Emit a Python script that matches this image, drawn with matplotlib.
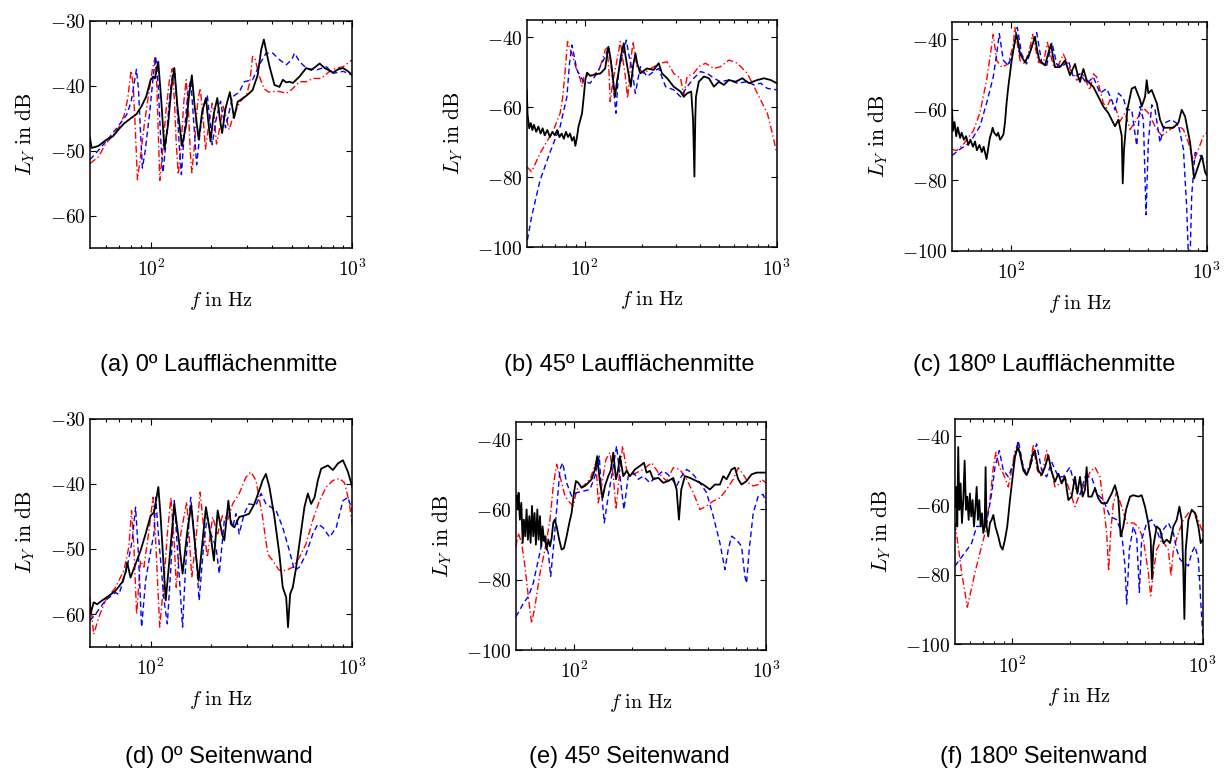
import matplotlib
matplotlib.use("Agg")
import matplotlib.pyplot as plt
from matplotlib.ticker import FixedLocator, NullFormatter

plt.rcParams['mathtext.fontset'] = 'cm'

# (a) 0º Laufflächenmitte
fa_black = [50, 51, 55, 60, 65, 70, 74, 80, 85, 90, 95, 100, 103, 105, 109, 113, 117, 122, 127, 131,
            136, 143, 150, 155, 160, 165, 173, 180, 188, 193, 198, 205, 214, 220, 226, 235, 247, 253, 259, 270,
            285, 300, 320, 339, 353, 364, 373, 388, 411, 435, 452, 470, 488, 507, 547, 590, 625, 650, 688, 729,
            802, 849, 899, 952, 1000]
La_black = [-48.0, -49.6, -49.3, -48.4, -47.8, -46.6, -45.8, -45.0, -44.4, -43.2, -41.7, -39.1, -38.6, -38.9, -36.3, -42.5, -49.8, -46.0, -40.0, -37.3,
            -43.5, -49.3, -46.0, -41.5, -38.4, -43.0, -48.3, -44.0, -41.9, -45.5, -48.6, -44.5, -41.9, -45.0, -47.3, -43.5, -41.0, -43.0, -45.0, -42.5,
            -42.0, -41.5, -40.7, -38.4, -34.5, -32.9, -34.5, -37.0, -39.9, -40.2, -39.1, -39.5, -39.4, -39.6, -38.6, -37.3, -37.6, -37.2, -36.6, -37.3,
            -38.0, -37.5, -37.3, -37.8, -38.4]
fa_red = [50, 55, 60, 65, 70, 74, 77, 79, 80, 82, 84, 86, 89, 93, 98, 102, 105, 107, 109, 111,
          114, 119, 124, 128, 131, 134, 137, 141, 146, 150, 154, 157, 160, 165, 171, 176, 181, 187, 194, 202,
          207, 212, 220, 229, 237, 245, 255, 275, 300, 310, 320, 330, 345, 365, 385, 403, 435, 470, 500, 547,
          590, 637, 700, 772, 833, 899, 1000]
La_red = [-52.0, -51.0, -48.9, -47.7, -46.3, -44.5, -42.0, -39.0, -37.7, -40.0, -47.0, -54.5, -51.0, -46.0, -41.0, -37.5, -35.7, -39.0, -47.0, -54.6,
          -51.0, -44.0, -39.0, -37.4, -42.0, -49.0, -53.7, -50.0, -42.5, -39.1, -44.0, -50.0, -53.4, -49.0, -42.5, -40.4, -44.0, -49.8, -46.0, -42.7,
          -45.0, -49.0, -46.5, -43.2, -45.0, -46.8, -45.0, -42.7, -41.2, -39.5, -35.5, -36.0, -38.5, -40.5, -41.0, -40.9, -40.9, -41.2, -40.6, -39.4,
          -39.4, -38.9, -38.9, -37.8, -37.3, -37.1, -36.0]
fa_blue = [50, 55, 60, 65, 70, 76, 80, 83, 85, 87, 89, 91, 94, 99, 103, 106, 109, 112, 115, 119,
           124, 128, 131, 135, 139, 142, 147, 153, 158, 163, 169, 176, 183, 191, 197, 202, 210, 222, 228, 235,
           245, 255, 275, 291, 320, 346, 373, 403, 435, 470, 500, 517, 547, 590, 662, 743, 802, 899, 1000]
La_blue = [-51.4, -50.0, -48.6, -47.3, -46.0, -44.5, -42.5, -39.5, -37.5, -40.5, -47.0, -52.7, -50.0, -44.0, -38.5, -35.6, -40.0, -48.0, -53.4, -49.0,
           -42.0, -38.5, -37.3, -43.0, -50.0, -53.7, -47.0, -41.0, -39.1, -45.0, -52.2, -47.0, -43.0, -41.6, -45.5, -49.1, -45.5, -42.4, -44.5, -46.5,
           -44.0, -41.7, -41.0, -39.4, -39.1, -36.8, -35.0, -35.0, -36.0, -36.8, -36.0, -35.0, -36.3, -37.3, -37.6, -37.1, -38.1, -37.8, -38.4]

# (b) 45º Laufflächenmitte
fb_black = [50, 50.5, 51.5, 52.5, 53.5, 54.5, 56, 57.5, 59, 60.5, 62, 64, 66, 68, 70, 72, 74, 76, 78, 80,
            82, 84, 86, 88, 89.5, 91, 93, 95, 97, 99, 101, 103, 107, 111, 116, 121, 125, 128, 131, 133,
            136, 139, 144, 148, 150, 155, 160, 163, 168, 174, 179, 184, 188, 195, 211, 229, 243, 253, 269, 291,
            316, 328, 342, 359, 367, 373, 377, 380, 393, 418, 444, 471, 500, 531, 564, 611, 662, 717, 793, 859,
            930, 1000]
Lb_black = [-55.0, -62.0, -66.0, -64.5, -66.5, -65.0, -67.0, -65.5, -67.5, -66.0, -68.0, -66.5, -68.5, -67.0, -68.0, -66.5, -68.5, -67.5, -69.0, -67.0,
            -68.5, -67.5, -69.5, -68.5, -71.0, -69.0, -65.5, -63.6, -61.7, -57.0, -52.0, -50.1, -51.0, -50.8, -50.5, -50.3, -49.5, -48.9, -45.0, -42.7,
            -45.5, -49.3, -57.0, -52.0, -50.3, -45.0, -41.7, -45.0, -49.3, -54.1, -48.0, -44.6, -47.5, -50.3, -48.9, -49.3, -47.4, -50.3, -51.7, -54.1,
            -55.5, -57.0, -56.0, -55.5, -63.6, -79.8, -63.0, -57.0, -52.7, -51.2, -51.7, -54.1, -52.7, -53.6, -52.2, -52.7, -51.7, -53.1, -52.2, -51.7,
            -52.2, -53.1]
fb_red = [50, 53, 58.7, 68.9, 74.6, 77, 79.3, 81.5, 83.5, 85.9, 90, 95, 97, 99, 103, 111, 118, 123, 128, 131,
          134, 136, 140, 147.5, 153.5, 157, 163, 167.6, 173, 178.7, 184, 187.5, 203, 229, 248, 269, 291, 316, 328, 342,
          370, 393, 426, 471, 510, 564, 624, 703, 762, 825, 894, 949, 1000]
Lb_red = [-77.0, -78.4, -73.1, -66.5, -61.7, -57.0, -49.3, -41.2, -43.0, -44.6, -48.5, -52.0, -54.1, -51.5, -51.0, -50.8, -49.5, -47.0, -43.6, -43.0,
          -50.0, -58.4, -53.0, -46.5, -41.2, -45.0, -51.2, -57.4, -48.0, -41.2, -46.0, -48.4, -50.3, -48.4, -47.4, -47.0, -50.3, -51.7, -56.5, -51.2,
          -50.3, -48.4, -47.4, -48.9, -48.4, -46.5, -47.4, -50.3, -54.1, -57.9, -61.7, -67.4, -73.1]
fb_blue = [50.4, 53, 58.7, 66.2, 74.6, 80.9, 83.5, 85.9, 88, 91.2, 98.8, 107, 116, 128, 133.4, 136, 138.9, 145.7, 150.5, 160,
           164.9, 170, 176.6, 183.8, 195, 211.5, 229, 243, 264, 291, 316, 342, 370, 401, 435, 471, 510, 564, 624, 703,
           762, 825, 894, 1000]
Lb_blue = [-97.9, -91.2, -80.8, -72.7, -65.5, -57.0, -47.4, -42.2, -45.0, -49.3, -52.7, -53.1, -50.3, -45.5, -42.7, -46.0, -50.3, -61.7, -49.3, -44.0,
           -40.8, -45.0, -49.3, -56.0, -48.4, -51.2, -49.8, -48.9, -54.1, -55.0, -57.0, -54.1, -51.7, -49.8, -50.3, -51.7, -52.7, -52.2, -53.1, -52.7,
           -53.6, -53.1, -54.6, -55.0]

# (c) 180º Laufflächenmitte
fc_black = [50, 50.5, 51.5, 52.5, 53.5, 55, 56, 57.5, 59, 60.5, 62, 64, 65.5, 67, 69, 71, 72.5, 74, 75, 76.5,
            78, 79.5, 80.6, 82, 84.5, 86, 88, 89.6, 91.5, 93.2, 95, 96.9, 100.8, 104.8, 106.9, 109, 111.2, 117.9, 125.1, 132.6,
            136, 139.6, 149.2, 156, 160.1, 164, 167.9, 178, 188.8, 200.3, 212.4, 220, 225.3, 234.3, 243.6, 263.5, 279.5, 296.4, 314, 340,
            353.7, 367.9, 372.2, 378, 393, 413.7, 430.2, 456.3, 465.3, 484, 493.6, 503, 523.5, 555.3, 577.4, 600.5, 675.6, 716.5, 745, 775,
            822, 861.6, 907, 943, 981, 1000]
Lc_black = [-60.0, -66.0, -63.5, -67.5, -65.0, -68.0, -66.5, -68.5, -67.5, -70.0, -68.5, -70.5, -69.0, -71.5, -70.0, -72.0, -70.5, -72.5, -74.0, -71.0,
            -68.0, -66.5, -65.1, -66.5, -67.4, -66.5, -68.5, -67.9, -67.0, -63.7, -58.0, -53.5, -46.0, -40.5, -38.8, -41.0, -44.2, -46.5, -43.7, -39.3,
            -43.0, -46.0, -47.4, -43.5, -41.4, -45.0, -47.9, -47.9, -46.0, -50.2, -47.0, -50.5, -52.1, -48.4, -51.6, -53.5, -56.3, -59.1, -60.9, -64.7,
            -62.8, -67.4, -80.9, -71.2, -60.0, -54.0, -53.5, -57.2, -59.1, -56.3, -51.6, -55.3, -54.4, -58.1, -62.8, -65.1, -65.1, -63.7, -60.0, -61.9,
            -69.3, -79.5, -75.8, -73.0, -77.7, -78.6]
fc_red = [50, 52.7, 57.1, 64.2, 69.4, 75.1, 78.1, 81.2, 84.5, 89.6, 96.9, 102.8, 104.8, 111.2, 117.9, 125.1, 129, 138, 146.3, 153.4,
          164.6, 174.6, 185.1, 200.3, 216.6, 234.3, 253.3, 263.5, 274, 296.4, 308, 320.6, 340, 360.7, 382.5, 405.7, 438.7, 474.6, 503, 544.5,
          588.8, 650, 702.6, 760, 806, 855, 907, 962, 1000]
Lc_red = [-71.2, -71.6, -69.8, -66.0, -60.9, -51.6, -45.1, -38.6, -46.0, -47.9, -47.0, -41.4, -36.7, -46.0, -47.0, -42.3, -38.6, -46.5, -47.0, -40.9,
          -47.4, -47.4, -44.2, -48.4, -51.6, -50.2, -54.4, -49.8, -50.7, -58.1, -59.5, -57.2, -59.1, -63.3, -60.9, -65.6, -62.8, -59.5, -60.9, -64.7,
          -67.4, -65.6, -64.2, -65.6, -69.3, -74.9, -71.2, -67.4, -66.5]
fc_blue = [50, 54.9, 61.7, 69.4, 75.1, 81.2, 84.5, 87.2, 91.4, 96.9, 102.8, 107.7, 113.4, 120.2, 128, 135.3, 143.4, 152.2, 162, 171.2,
           181.5, 196.3, 208.3, 225.3, 243.6, 263.5, 285, 308, 327, 340, 353.7, 375, 390, 413.7, 438.7, 456.3, 474.6, 489.7, 503, 523.5,
           544.5, 577.4, 612, 662.5, 716.5, 760, 790, 806, 822, 838, 872, 925, 1000]
Lc_blue = [-73.0, -71.2, -69.3, -64.7, -58.1, -50.7, -44.2, -38.4, -46.0, -47.4, -43.3, -36.6, -44.2, -47.0, -42.0, -38.1, -46.5, -47.4, -40.9, -47.0,
           -47.9, -46.0, -50.7, -49.8, -52.6, -50.7, -55.3, -54.0, -57.2, -60.0, -55.3, -56.7, -60.0, -60.0, -70.2, -59.1, -62.8, -89.8, -69.3, -58.6,
           -60.0, -69.3, -63.7, -62.8, -64.2, -71.2, -87.9, -102.0, -102.0, -84.2, -72.1, -73.0, -74.9]

# (d) 0º Seitenwand
fd_black = [50, 50.3, 52.2, 54.3, 57.5, 62.1, 67, 72.3, 75.1, 76.5, 79.5, 84.2, 89.1, 94.4, 100, 103.9, 109.2, 112.1, 118.8, 123,
            131, 138, 144, 152, 159, 167, 173, 181, 188, 200, 206, 215, 226, 232, 243, 250, 260, 275, 291, 308,
            327, 346, 359, 373, 388, 411, 435, 452, 470, 480, 492, 507, 527, 558, 579, 602, 625, 650, 675, 701,
            757, 802, 849, 899, 952, 1000]
Ld_black = [-58.5, -60.0, -58.2, -58.5, -57.9, -57.2, -56.4, -55.1, -53.6, -52.1, -54.4, -52.3, -50.3, -47.7, -44.9, -44.4, -40.5, -45.1, -57.9, -52.8,
            -43.1, -48.7, -53.8, -47.3, -43.3, -50.3, -54.9, -48.7, -43.6, -48.7, -51.8, -44.1, -47.7, -48.7, -42.6, -46.2, -46.7, -45.1, -44.9, -44.6,
            -43.1, -41.0, -39.5, -38.5, -40.5, -45.1, -50.8, -55.9, -57.4, -62.0, -56.9, -55.9, -52.8, -47.2, -43.6, -41.5, -43.1, -42.1, -39.5, -37.7,
            -37.2, -37.9, -36.9, -36.4, -38.2, -40.5]
fd_red = [50, 52.2, 55.3, 59.7, 67, 73.7, 78, 80.4, 82.6, 85.2, 89.1, 92.6, 98.1, 102.7, 105.9, 110.9, 116.5, 121, 126, 131,
          134, 141, 151, 155, 160, 167.5, 176, 184, 191, 203, 215, 227, 241, 255, 275, 297, 314, 333, 359, 381,
          403, 435, 470, 507, 547, 590, 637, 688, 743, 802, 865, 916, 962, 1000]
Ld_red = [-57.4, -63.1, -60.5, -57.9, -55.9, -53.3, -49.7, -44.1, -49.7, -60.0, -51.8, -52.8, -47.2, -42.1, -48.7, -62.0, -54.9, -47.7, -42.1, -49.2,
          -55.9, -47.7, -42.8, -47.7, -54.4, -48.7, -41.3, -47.2, -51.3, -45.1, -47.7, -44.9, -45.6, -43.1, -41.5, -39.0, -38.2, -39.5, -45.1, -50.8,
          -51.8, -53.3, -53.3, -52.8, -51.3, -49.2, -45.6, -42.6, -40.5, -39.5, -39.2, -39.9, -42.6, -46.2]
fd_blue = [50, 53.3, 59.7, 67, 69.6, 72.3, 76.5, 81, 84.2, 86.8, 90.2, 94.4, 100, 103.9, 105.9, 109.2, 116.5, 121, 126, 131,
           136, 144, 149, 158, 167.5, 174, 184, 191, 199, 211, 219, 232, 245, 255, 265, 275, 291, 308, 333, 353,
           373, 419, 452, 488, 517, 547, 590, 637, 675, 715, 772, 833, 899, 952, 1000]
Ld_blue = [-61.0, -60.0, -57.9, -56.7, -57.0, -55.4, -52.8, -48.7, -43.6, -50.3, -62.0, -54.9, -50.3, -47.7, -42.1, -47.7, -57.9, -61.5, -52.8, -42.6,
           -50.3, -62.0, -52.8, -42.1, -50.3, -57.9, -48.7, -45.1, -47.7, -49.7, -53.8, -45.6, -44.1, -46.7, -44.6, -47.7, -44.6, -43.1, -43.3, -41.5,
           -43.1, -44.1, -46.7, -50.3, -53.3, -52.8, -50.8, -47.7, -46.2, -46.7, -48.2, -46.7, -42.6, -42.1, -44.1]

# (e) 45º Seitenwand
fe_black = [50.4, 51, 51.6, 52.4, 53.3, 54.2, 55, 55.9, 56.8, 57.7, 58.7, 59.6, 60.6, 61.5, 62.5, 63.5, 64.6, 65.6, 66.7, 67.7,
            68.8, 70, 71.1, 72.2, 73.7, 75.2, 76.7, 78.2, 79.5, 81.4, 84, 86.4, 88.9, 91.8, 94.8, 97.4, 100.2, 102.6, 105.5, 109.8,
            114.3, 119, 123.8, 128.9, 132.5, 136.8, 141.3, 145.3, 151.2, 155.5, 160.6, 165.8, 169.1, 173.9, 181, 188.3, 196, 208.1, 221, 231.8,
            239.3, 249.1, 259.3, 275.3, 292.2, 310.3, 329.5, 342.9, 352.6, 362.6, 378.9, 402.3, 435.7, 472, 511, 542.7, 576.2, 599.8, 624.2, 662.7,
            689.7, 717.8, 747, 793, 842, 894, 949, 1000]
Le_black = [-56.2, -60.0, -55.2, -62.9, -58.1, -69.5, -62.9, -67.6, -60.0, -68.6, -61.9, -69.5, -59.0, -67.6, -61.0, -70.0, -60.0, -68.6, -61.9, -70.5,
            -64.8, -69.0, -67.6, -71.4, -68.6, -70.5, -68.1, -63.8, -62.9, -64.8, -68.6, -71.4, -71.0, -67.6, -63.8, -61.0, -55.2, -51.9, -52.4, -53.8,
            -53.3, -52.4, -51.4, -48.6, -44.8, -52.4, -56.7, -53.3, -50.5, -49.0, -43.8, -51.4, -49.5, -44.8, -50.5, -49.0, -50.5, -48.6, -47.6, -46.7,
            -49.5, -49.0, -51.4, -51.0, -52.4, -51.9, -51.0, -54.3, -62.9, -54.3, -50.5, -51.0, -51.9, -52.9, -54.3, -52.9, -52.9, -50.5, -51.4, -48.6,
            -48.1, -51.4, -52.9, -51.9, -50.0, -49.5, -49.5, -49.5]
fe_red = [50, 51.4, 53.5, 55.7, 58, 60.3, 62.8, 66.7, 70.8, 75.2, 78.2, 81.4, 84.7, 90, 95.5, 99.4, 103.5, 112.1, 121.4, 130.4,
          134.1, 139.6, 147, 154.2, 160.6, 165.8, 172.5, 179.5, 188.3, 196, 212.3, 230, 254.1, 275.3, 304.1, 329.5, 356.8, 386.6, 418.7, 453.5,
          491.2, 532, 576.2, 624.2, 676, 717.8, 762, 809, 859, 912, 949, 1000]
Le_red = [-70.5, -66.7, -69.5, -76.2, -84.8, -92.4, -87.6, -78.1, -71.4, -62.9, -53.3, -47.1, -50.5, -56.2, -58.1, -59.0, -54.3, -53.3, -51.4, -46.7,
          -58.1, -53.3, -45.7, -43.8, -50.5, -60.0, -50.5, -41.9, -48.6, -50.5, -49.5, -48.6, -46.7, -49.5, -51.9, -48.1, -48.6, -51.4, -55.2, -60.0,
          -59.0, -57.6, -56.7, -54.3, -51.4, -48.1, -50.0, -52.4, -53.3, -52.9, -51.4, -52.4]
fe_blue = [50, 52.4, 54.6, 58, 61.5, 65.4, 69.4, 73.7, 75.8, 78.2, 81.4, 84.7, 87.5, 91.8, 97.4, 103.5, 112.1, 121.4, 128.9, 135.7,
           139.6, 144.1, 151.2, 160.6, 167.1, 173.9, 182.4, 192.1, 204, 216.7, 230, 249.1, 269.8, 292.2, 316.5, 342.9, 364, 386.6, 410.4, 453.5,
           491.2, 532, 576.2, 611.8, 636.8, 662.7, 703.6, 747, 777.5, 793, 819, 859, 912, 968.5, 1000]
Le_blue = [-90.5, -88.6, -86.7, -84.8, -81.0, -74.3, -67.6, -72.4, -79.0, -71.4, -60.0, -48.6, -46.7, -52.4, -56.2, -55.2, -54.8, -54.3, -50.5, -44.8,
           -55.2, -63.8, -56.2, -47.6, -41.9, -50.5, -60.0, -50.5, -49.5, -51.4, -50.5, -52.4, -50.5, -49.0, -50.5, -53.3, -50.5, -48.6, -49.5, -52.4,
           -55.2, -61.9, -69.5, -77.1, -71.4, -67.6, -68.6, -70.5, -79.0, -81.0, -71.4, -61.0, -56.2, -55.7, -58.1]

# (f) 180º Seitenwand
ff_black = [50.2, 50.8, 51.4, 52, 52.7, 53.5, 54.4, 55.3, 56.2, 57.1, 58, 59, 59.9, 60.9, 61.9, 62.9, 63.9, 65, 66, 67.1,
            68.2, 69.3, 70.4, 71.6, 72.4, 73.3, 74.8, 76.3, 77.9, 79.5, 81.5, 84.4, 86.8, 89, 91.5, 94.1, 97.2, 100.4, 103.3, 106.7,
            109.7, 114.2, 118.9, 123.8, 127.9, 131.5, 137, 142.6, 148.4, 154.6, 160.9, 167.6, 174.5, 181.6, 189.1, 196.9, 205, 213.4, 219.5, 226.7,
            234.1, 240.8, 245.7, 250.7, 261.1, 271.9, 283, 294.7, 313.1, 332.5, 346.2, 360.5, 370.8, 383, 395.5, 415.1, 432.2, 459.2, 478.1, 497.7,
            518.2, 533.1, 541.7, 550.5, 573.3, 596.9, 621.4, 647, 673.6, 701.5, 730.4, 754.3, 775.8, 791.6, 801.2, 814.3, 841, 875.6, 911.5, 948.9,
            976, 1000]
Lf_black = [-60.3, -54.6, -66.0, -43.1, -61.2, -53.6, -65.0, -58.4, -47.0, -61.2, -57.4, -64.1, -56.5, -63.1, -58.4, -66.0, -61.2, -54.6, -64.1, -58.4,
            -66.0, -62.2, -67.9, -66.0, -48.9, -66.0, -68.9, -65.0, -64.1, -62.7, -66.0, -68.9, -71.7, -72.7, -69.8, -66.0, -58.4, -51.7, -46.0, -43.1,
            -45.0, -49.8, -51.2, -48.9, -45.0, -44.1, -49.8, -51.2, -48.9, -45.5, -50.2, -53.1, -50.8, -53.6, -51.7, -58.4, -57.4, -51.7, -56.5, -51.7,
            -57.4, -55.5, -48.9, -57.4, -57.4, -55.0, -57.9, -59.3, -59.3, -56.5, -54.1, -57.9, -68.9, -66.0, -61.2, -57.4, -57.0, -57.4, -57.0, -60.3,
            -65.0, -69.8, -81.2, -71.7, -66.0, -66.9, -70.8, -69.8, -70.8, -66.0, -64.1, -60.3, -64.1, -79.3, -92.7, -72.7, -64.1, -61.2, -62.2, -66.0,
            -70.8, -69.8]
ff_red = [50, 52, 54.2, 56.4, 58, 60.4, 63.7, 67.6, 71.9, 76.3, 79.5, 82.1, 85.5, 89.7, 95.3, 99.2, 103.3, 107.5, 111.9, 116.6,
          122.8, 128.9, 135.3, 142.6, 151.5, 159, 167.6, 178, 189.1, 200.9, 213.4, 226.7, 240.8, 255.9, 271.9, 288.7, 300.7, 313.1, 320.7, 328.5,
          339.3, 353.3, 375.3, 398.7, 432.2, 459.2, 487.8, 518.2, 533.1, 550.5, 573.3, 609, 660, 681.8, 701.5, 745.3, 791.6, 841, 893.3, 948.9,
          1000]
Lf_red = [-65.0, -71.7, -79.3, -85.0, -89.3, -85.0, -79.3, -73.6, -67.9, -58.4, -48.9, -44.6, -48.9, -50.8, -54.6, -49.8, -44.1, -42.2, -47.9, -50.3,
          -48.9, -42.7, -49.8, -51.7, -44.1, -48.9, -54.6, -53.6, -51.7, -56.0, -60.3, -56.5, -53.6, -50.3, -48.9, -51.7, -59.3, -67.9, -78.9, -67.9,
          -59.3, -56.0, -60.3, -65.0, -65.0, -66.0, -69.8, -79.3, -86.0, -79.3, -72.7, -69.8, -72.7, -80.3, -72.7, -67.9, -64.1, -62.2, -61.2, -64.1,
          -67.9]
ff_blue = [50, 53.1, 56.4, 61.2, 65, 68.8, 73.3, 77.9, 81.1, 85.5, 89.7, 95.3, 101.2, 107.5, 113.3, 118.9, 126.4, 134.2, 142.6, 151.5,
           160.9, 174.5, 185.3, 200.9, 213.4, 226.7, 240.8, 261.1, 277.4, 300.7, 325.9, 353.3, 375.3, 390.8, 398.7, 411.8, 432.2, 450, 464.8, 478.1,
           507.9, 539.5, 573.3, 596.9, 621.4, 660, 701.5, 730.4, 760.4, 791.6, 841, 875.6, 911.5, 948.9, 976, 1000]
Lf_blue = [-77.4, -75.5, -73.6, -70.8, -66.0, -66.0, -65.0, -56.5, -48.9, -44.1, -49.8, -51.7, -47.9, -41.2, -47.9, -51.2, -47.4, -42.2, -49.8, -51.7,
           -47.4, -51.7, -51.7, -48.9, -54.6, -57.0, -51.7, -51.7, -56.5, -58.4, -63.1, -64.1, -67.9, -77.4, -88.4, -72.7, -66.0, -68.9, -85.0, -69.8,
           -65.0, -64.1, -66.9, -69.8, -66.9, -65.0, -67.9, -72.7, -75.5, -76.4, -77.4, -73.6, -71.7, -75.5, -87.5, -97.0]

captions = ["(a) 0º Laufflächenmitte", "(b) 45º Laufflächenmitte", "(c) 180º Laufflächenmitte",
            "(d) 0º Seitenwand", "(e) 45º Seitenwand", "(f) 180º Seitenwand"]

panels = [
    (fa_black, La_black, fa_red, La_red, fa_blue, La_blue, (-65, -30), [-60, -50, -40, -30]),
    (fb_black, Lb_black, fb_red, Lb_red, fb_blue, Lb_blue, (-100, -35), [-100, -80, -60, -40]),
    (fc_black, Lc_black, fc_red, Lc_red, fc_blue, Lc_blue, (-100, -35), [-100, -80, -60, -40]),
    (fd_black, Ld_black, fd_red, Ld_red, fd_blue, Ld_blue, (-65, -30), [-60, -50, -40, -30]),
    (fe_black, Le_black, fe_red, Le_red, fe_blue, Le_blue, (-100, -35), [-100, -80, -60, -40]),
    (ff_black, Lf_black, ff_red, Lf_red, ff_blue, Lf_blue, (-100, -35), [-100, -80, -60, -40]),
]

boxes = [
    [0.0733, 0.6796, 0.2139, 0.2937],
    [0.4293, 0.6805, 0.2037, 0.2939],
    [0.7759, 0.6761, 0.2076, 0.2959],
    [0.0733, 0.1645, 0.2138, 0.2948],
    [0.4205, 0.1602, 0.2037, 0.2950],
    [0.7783, 0.1676, 0.2019, 0.2911],
]
caption_pos = [(0.178, 0.528), (0.513, 0.528), (0.851, 0.528),
               (0.178, 0.022), (0.513, 0.022), (0.851, 0.022)]

fig = plt.figure(figsize=(12.27, 7.74), dpi=100)

for i, (fk, Lk, fr, Lr, fbl, Lbl, ylim, yticks) in enumerate(panels):
    ax = fig.add_axes(boxes[i])
    ax.plot(fr, Lr, color='red', lw=1.0, ls='-.', dashes=(5, 2, 1, 2))
    ax.plot(fbl, Lbl, color='blue', lw=1.0, ls='--', dashes=(4, 2.5))
    ax.plot(fk, Lk, color='black', lw=1.3)
    ax.set_xscale('log')
    ax.set_xlim(50, 1000)
    ax.set_ylim(*ylim)
    ax.set_xticks([100, 1000])
    ax.set_xticklabels([r'$10^2$', r'$10^3$'], fontsize=14)
    ax.xaxis.set_minor_locator(FixedLocator([60, 70, 80, 90, 200, 300, 400, 500, 600, 700, 800, 900]))
    ax.xaxis.set_minor_formatter(NullFormatter())
    ax.set_yticks(yticks)
    ax.set_yticklabels([r'$%d$' % v for v in yticks], fontsize=14)
    ax.tick_params(which='both', direction='in', top=True, right=True, width=0.8)
    ax.tick_params(which='major', length=4)
    ax.tick_params(which='minor', length=2.5)
    ax.tick_params(axis='x', pad=8)
    ax.tick_params(axis='y', pad=3)
    for s in ax.spines.values():
        s.set_linewidth(1.1)
    ax.set_xlabel(r'$f\ \mathrm{in\ Hz}$', fontsize=14.5, labelpad=7)
    ax.set_ylabel(r'$L_Y\ \mathrm{in\ dB}$', fontsize=15.5, labelpad=9)
    fig.text(caption_pos[i][0], caption_pos[i][1], captions[i], ha='center', va='center',
             fontsize=17, family=['Liberation Sans', 'DejaVu Sans'])

fig.savefig('out.png', dpi=100)
